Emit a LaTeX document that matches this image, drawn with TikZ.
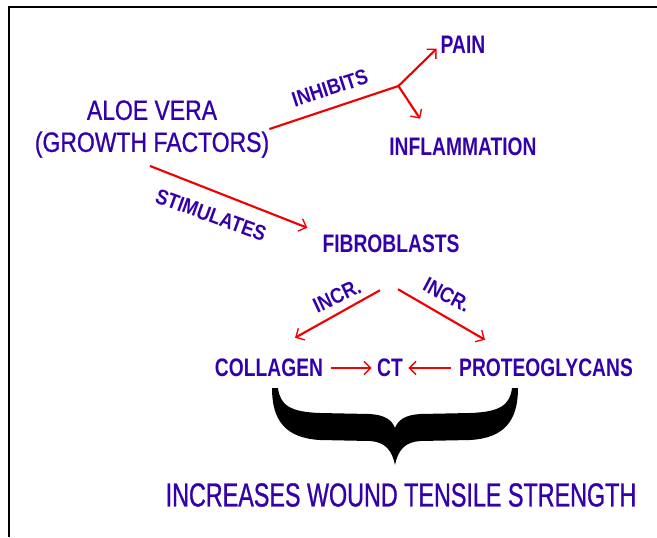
\documentclass[tikz,border=0pt]{standalone}
\usepackage{fontspec}
\newfontfamily\narrowsf{Liberation Sans}[FakeStretch=0.76]
\newfontfamily\narrowersf{Liberation Sans}[FakeStretch=0.70,FakeBold=0.8]
\newfontfamily\sourcesf{Liberation Sans}[FakeStretch=0.82,FakeBold=0.8]
\newfontfamily\labelsf{Liberation Sans}[FakeStretch=0.86]
\usetikzlibrary{arrows.meta,positioning,calc}
\definecolor{cInk}{RGB}{51,0,170}
\definecolor{cArrow}{RGB}{240,0,0}
\tikzset{
  basetext/.style={inner sep=0pt,text=cInk,align=center},
  termnode/.style={basetext,font=\narrowsf\bfseries\fontsize{19}{22}\selectfont},
  sourcenode/.style={basetext,font=\sourcesf\fontsize{21}{24}\selectfont},
  resultnode/.style={basetext,font=\narrowersf\fontsize{25}{28}\selectfont},
  actlabel/.style={basetext,font=\labelsf\bfseries\fontsize{16}{18}\selectfont},
  redline/.style={line width=1.6pt,color=cArrow},
  arr/.style={redline,-{Straight Barb[length=5pt,width=10pt,line width=1pt]}}
}

\begin{document}
\begin{tikzpicture}[x=0.75pt,y=-0.75pt]
  \useasboundingbox (0,0) rectangle (657,537);
  % frame
  \draw[line width=1.8pt] (9,537) -- (9,7) -- (657,7);

  % source
  \node[sourcenode] (aloe) at (152,129) {ALOE VERA\\(GROWTH FACTORS)};

  % effects
  \node[termnode] (pain) at (463,45) {PAIN};
  \node[termnode] (infl) at (463,147) {INFLAMMATION};
  \node[termnode] (fib) at (391,244) {FIBROBLASTS};
  \node[termnode] (coll) at (269,368) {COLLAGEN};
  \node[termnode] (ct) at (390,368) {CT};
  \node[termnode] (prot) at (546,368) {PROTEOGLYCANS};
  \node[resultnode] (res) at (401,495) {INCREASES WOUND TENSILE STRENGTH};

  % inhibits
  \coordinate (fork) at ($(pain.west)+(-42,41)$);
  \draw[redline] (aloe.east) -- (fork);
  \draw[arr,shorten >=4pt] (fork) -- (pain.west);
  \draw[arr] (fork) -- ($(infl.north west)+(31,-19)$);
  \node[actlabel,rotate=18] (inh) at (330,88) {INHIBITS};

  % stimulates
  \draw[arr] ($(aloe.south)+(-2,8)$) -- ($(fib.north west)+(-15,-7)$);
  \node[actlabel,rotate=-20] (stim) at (211,215) {STIMULATES};

  % increases
  \draw[arr] ($(fib.south)+(-11,37)$) -- ($(coll.north)+(26,-21)$);
  \draw[arr] ($(fib.south)+(7,36)$) -- ($(prot.north)+(-61,-19)$);
  \node[actlabel,rotate=25] (incrl) at (337,296) {INCR.};
  \node[actlabel,rotate=-28] (incrr) at (447,295) {INCR.};

  % connective tissue
  \draw[arr,shorten <=6pt,shorten >=4pt] (coll.east) -- (ct.west);
  \draw[arr,shorten <=6pt,shorten >=4pt] (prot.west) -- (ct.east);

  % brace
  \fill (272,388) .. controls (272,420) and (285,438) .. (320,440)
    -- (370,441) .. controls (385,442) and (392,450) .. (395,465)
    .. controls (398,450) and (405,442) .. (420,441)
    -- (470,440) .. controls (505,438) and (518,420) .. (518,388)
    -- (512,388) .. controls (510,405) and (500,412) .. (470,413)
    -- (420,414) .. controls (405,415) and (398,420) .. (395,428)
    .. controls (392,420) and (385,415) .. (370,414)
    -- (320,413) .. controls (290,412) and (280,405) .. (278,388) -- cycle;
\end{tikzpicture}
\end{document}
